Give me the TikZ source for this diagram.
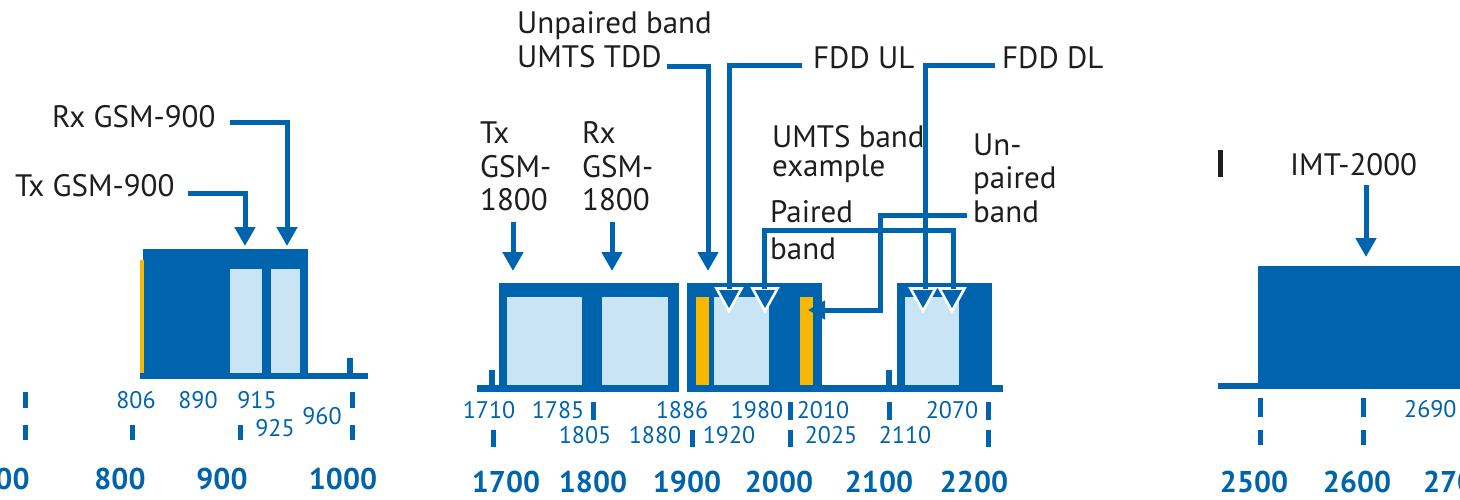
\documentclass[tikz,border=0pt]{standalone}
\usepackage{fontspec}
\setmainfont{PT Sans}
\usetikzlibrary{arrows.meta}
\definecolor{dblue}{HTML}{0063AE}
\definecolor{lblue}{HTML}{C9E4F5}
\definecolor{ybar}{HTML}{F8B700}
\definecolor{tgray}{HTML}{1E1E1E}
\tikzset{
  lbl/.style={font=\fontsize{31}{33}\selectfont, text=tgray, inner sep=0pt, anchor=base west},
  num/.style={font=\fontsize{24}{26}\selectfont, text=dblue, inner sep=0pt, anchor=base},
  big/.style={font=\bfseries\fontsize{30}{32}\selectfont, text=dblue, inner sep=0pt, anchor=base},
  conn/.style={draw=dblue, line width=5pt},
  arr/.style={conn, -{Triangle[length=19pt,width=20pt]}},
  darkfill/.style={fill=dblue},
  lightfill/.style={fill=lblue},
  yellowfill/.style={fill=ybar},
  tickmark/.style={fill=dblue},
  tri/.style={fill=dblue, draw=white, line width=2.6pt, line join=miter},
}
\begin{document}
\begin{tikzpicture}[x=1pt,y=-1pt]
\useasboundingbox (0,0) rectangle (1460,499);
\clip (0,0) rectangle (1460,499);
\fill[white] (0,0) rectangle (1460,499);

% ---------------- left section (GSM-900) ----------------
\fill[darkfill] (143,249) rectangle (308,376);
\fill[darkfill] (140,373) rectangle (368,379);
\fill[darkfill] (347,358) rectangle (353,376);
\fill[lightfill] (230,269) rectangle (262,373);
\fill[lightfill] (271,269) rectangle (300,373);
\fill[yellowfill] (140,260) rectangle (144,373);

\foreach \x/\a/\b in {25/392/408, 25/425/440, 132/425/440, 240/425/440, 352/392/408, 352/425/440}
  \fill[tickmark] (\x-2.5,\a) rectangle (\x+2.5,\b);

\node[lbl] (rx9) at (52,127) {Rx GSM-900};
\node[lbl] (tx9) at (15,196) {Tx GSM-900};
\coordinate (rx9s) at (230,122);
\coordinate (rx9t) at (287,246);
\coordinate (tx9s) at (188,193);
\coordinate (tx9t) at (245,246);
\draw[arr] (tx9s) -| (tx9t);
\draw[arr] (rx9s) -| (rx9t);

\node[num] (n806) at (136,408) {806};
\node[num] (n890) at (198,408) {890};
\node[num] (n915) at (257,408) {915};
\node[num] (n925) at (275,436) {925};
\node[num] (n960) at (322,424) {960};

\node[big] (b700) at (4,489) {700};
\node[big] (b800) at (120,489) {800};
\node[big] (b900) at (222,489) {900};
\node[big] (b1000) at (343,489) {1000};

% ---------------- middle section ----------------
\fill[darkfill] (477,385) rectangle (679,392);
\fill[darkfill] (687,385) rectangle (1003,392);
\fill[darkfill] (489,370) rectangle (495,386);
\fill[darkfill] (886,370) rectangle (892,386);

% block 1
\fill[darkfill] (499,283) rectangle (679,388);
\fill[lightfill] (507,297) rectangle (582,385);
\fill[lightfill] (602,297) rectangle (668,385);
% block 2
\fill[darkfill] (687,283) rectangle (822,388);
\fill[yellowfill] (696,297) rectangle (709,385);
\fill[lightfill] (714,297) rectangle (769,385);
\fill[yellowfill] (800,297) rectangle (813,385);
% block 3
\fill[darkfill] (897,283) rectangle (992,388);
\fill[lightfill] (905,297) rectangle (959,385);

% triangles
\foreach \c in {729,765,923,952}
  \draw[tri] (\c-12.5,288.5) -- (\c+12.5,288.5) -- (\c,311) -- cycle;

\foreach \x/\a/\b in {493/430/447, 593/402/420, 692/430/447, 790/402/420, 790/430/447, 889/402/420, 988/402/420, 988/430/447}
  \fill[tickmark] (\x-2.5,\a) rectangle (\x+2.5,\b);

% labels
\node[lbl] (up1) at (517,33) {Unpaired band};
\node[lbl] (up2) at (517,67) {UMTS TDD};
\node[lbl] (ful) at (813,68) {FDD UL};
\node[lbl] (fdl) at (1002,68) {FDD DL};
\node[lbl] (t18a) at (480,143) {Tx};
\node[lbl] (t18b) at (480,177) {GSM-};
\node[lbl] (t18c) at (480,210) {1800};
\node[lbl] (r18a) at (582,143) {Rx};
\node[lbl] (r18b) at (582,177) {GSM-};
\node[lbl] (r18c) at (582,210) {1800};
\node[lbl] (ue1) at (772,147) {UMTS band};
\node[lbl] (ue2) at (772,176) {example};
\node[lbl] (pb1) at (770,222) {Paired};
\node[lbl] (pb2) at (770,259) {band};
\node[lbl] (un1) at (973,155) {Un-};
\node[lbl] (un2) at (973,188) {paired};
\node[lbl] (un3) at (973,222) {band};

% connectors
\coordinate (tddt) at (708,271);
\draw[arr] ([xshift=5pt,yshift=1pt]up2.base east) -| (tddt);
\coordinate (t18s) at (513,222);
\coordinate (t18t) at (513,271);
\draw[arr] (t18s) -- (t18t);
\coordinate (r18s) at (612,222);
\coordinate (r18t) at (612,271);
\draw[arr] (r18s) -- (r18t);
\coordinate (fuls) at (802,65);
\coordinate (fult) at (729,289);
\draw[conn] (fuls) -| (fult);
\coordinate (pbl) at (764,289);
\coordinate (pbr) at (953,289);
\coordinate (pbtop) at (953,230);
\draw[conn] (pbl) |- (pbtop) -- (pbr);
\coordinate (fdls) at (995,65);
\coordinate (fdlt) at (925,289);
\draw[conn] (fdls) -| (fdlt);
\coordinate (unps) at (967,215);
\coordinate (unpc) at (880,310);
\coordinate (unpt) at (808,310);
\draw[conn, -{Triangle[length=17pt,width=18pt]}] (unps) -| (unpc) -- (unpt);

\node[num] (n1710) at (489,418) {1710};
\node[num] (n1785) at (558,418) {1785};
\node[num] (n1886) at (682,418) {1886};
\node[num] (n1980) at (757,418) {1980};
\node[num] (n2010) at (823,418) {2010};
\node[num] (n2070) at (952,418) {2070};
\node[num] (n1805) at (585,443) {1805};
\node[num] (n1880) at (655,443) {1880};
\node[num] (n1920) at (729,443) {1920};
\node[num] (n2025) at (831,443) {2025};
\node[num] (n2110) at (905,443) {2110};

\node[big] (b1700) at (506,492) {1700};
\node[big] (b1800) at (593,492) {1800};
\node[big] (b1900) at (687,492) {1900};
\node[big] (b2000) at (779,492) {2000};
\node[big] (b2100) at (879,492) {2100};
\node[big] (b2200) at (974,492) {2200};

% ---------------- right section (IMT-2000) ----------------
\fill[tgray] (1218,150) rectangle (1223,177);
\fill[darkfill] (1218,383) rectangle (1460,389);
\fill[darkfill] (1258,266) rectangle (1460,389);
\foreach \x in {1260,1363} {
  \fill[tickmark] (\x-2.5,398) rectangle (\x+2.5,417);
  \fill[tickmark] (\x-2.5,430) rectangle (\x+2.5,445);
}
\node[lbl] (imt) at (1290,175) {IMT-2000};
\coordinate (imts) at (1366,185);
\coordinate (imtt) at (1366,257);
\draw[arr] (imts) -- (imtt);
\node[num, anchor=base west] (n2690) at (1404,417) {2690};
\node[big] (b2500) at (1254,492) {2500};
\node[big] (b2600) at (1357,492) {2600};
\node[big, anchor=base west] (b2700) at (1423,492) {2700};
\end{tikzpicture}
\end{document}
